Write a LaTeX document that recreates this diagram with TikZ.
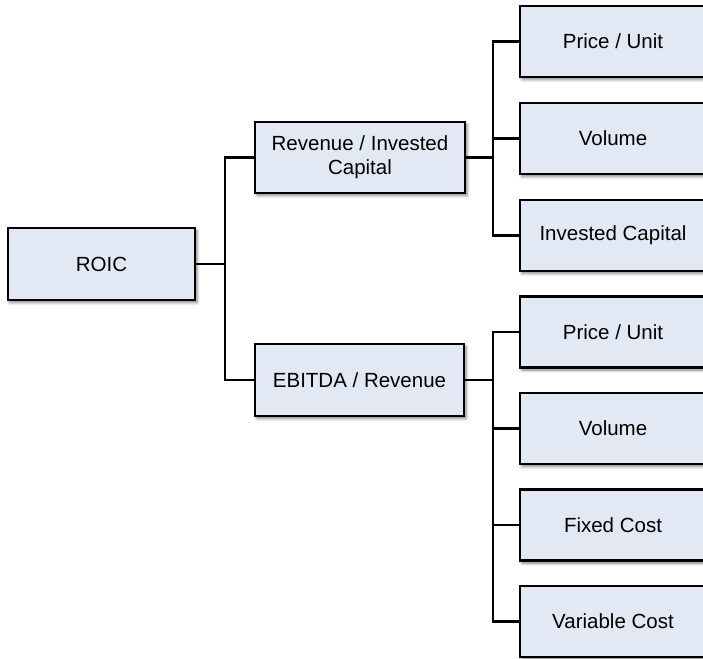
\documentclass[tikz,border=0pt]{standalone}
\usepackage{fontspec}
\setmainfont{Liberation Sans}
\usetikzlibrary{shadows.blur}
\definecolor{boxfill}{HTML}{E3E9F4}
\tikzset{
  treebox/.style={draw=black, line width=2.8pt, fill=boxfill, align=center,
    inner sep=2pt, font=\fontsize{20.5}{24}\selectfont,
    blur shadow={shadow xshift=2pt, shadow yshift=-2.5pt, shadow blur radius=3pt, shadow opacity=50}},
  leafbox/.style={treebox, minimum width=186pt, minimum height=71pt},
  link/.style={draw=black, line width=2.6pt}
}
\begin{document}
\begin{tikzpicture}[x=1pt, y=-1pt]
  \useasboundingbox (0,0) rectangle (703,658);

  % root and middle level
  \node[treebox, minimum width=187pt, minimum height=72pt] (roic) at (101.5,264) {ROIC};
  \node[treebox, minimum width=210pt, minimum height=71pt] (rev) at (360,157.5) {Revenue / Invested\\Capital};
  \node[treebox, minimum width=209pt, minimum height=72pt] (ebit) at (359.5,380) {EBITDA / Revenue};

  % leaves of the upper branch
  \node[leafbox] (p1) at (613,41.5) {Price / Unit};
  \node[leafbox] (v1) at (613,138.5) {Volume};
  \node[leafbox] (ic) at (613,235.5) {Invested Capital};

  % leaves of the lower branch
  \node[leafbox] (p2) at (613,332) {Price / Unit};
  \node[leafbox] (v2) at (613,428.5) {Volume};
  \node[leafbox] (fc) at (613,525) {Fixed Cost};
  \node[leafbox] (vc) at (613,621.5) {Variable Cost};

  % junction points of the elbow connectors
  \coordinate (j0) at (225,264);
  \coordinate (j1) at (493,157.5);
  \coordinate (j2) at (493,380);

  \draw[link] (roic.east) -- (j0);
  \draw[link] (j0) |- (rev.west);
  \draw[link] (j0) |- (ebit.west);

  \draw[link] (rev.east) -- (j1);
  \foreach \n in {p1,v1,ic} \draw[link] (j1) |- (\n.west);

  \draw[link] (ebit.east) -- (j2);
  \foreach \n in {p2,v2,fc,vc} \draw[link] (j2) |- (\n.west);
\end{tikzpicture}
\end{document}
